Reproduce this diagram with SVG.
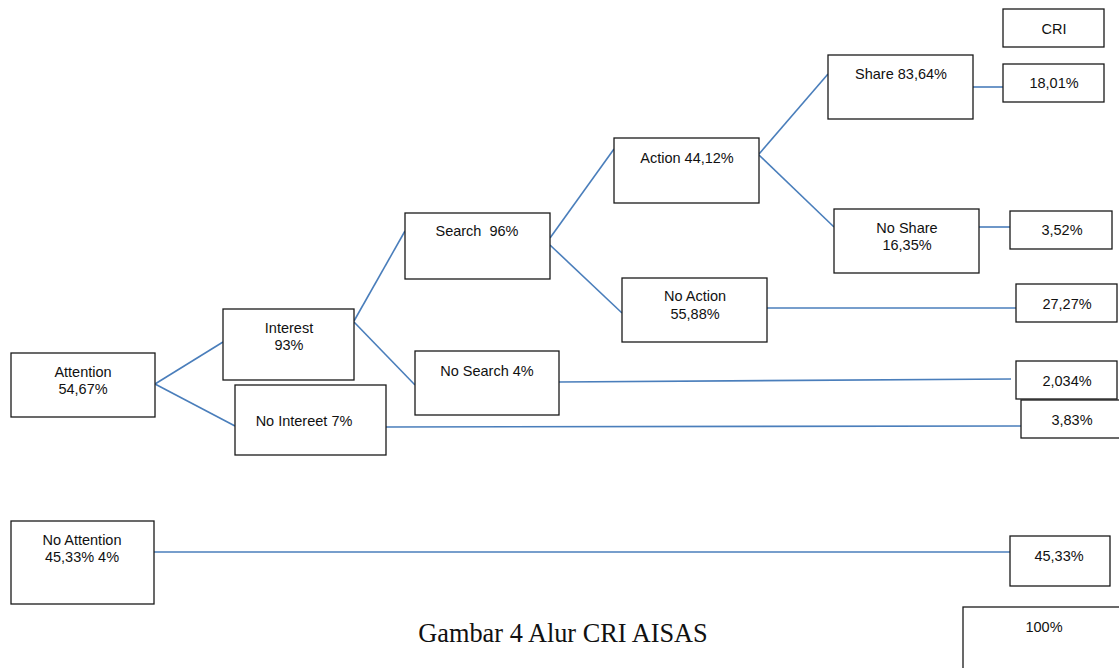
<svg xmlns="http://www.w3.org/2000/svg" width="1119" height="668" viewBox="0 0 1119 668">
<style>
.box{fill:#fff;stroke:#1a1a1a;stroke-width:1.3}
.lbl{font-family:"Liberation Sans",Arial,sans-serif;font-size:14.5px;fill:#111;text-anchor:middle}
.cap{font-family:"Liberation Serif","Times New Roman",serif;font-size:26.3px;fill:#111;text-anchor:middle}
.con line{stroke:#4a7ebb;stroke-width:1.6;fill:none}
</style>
<rect width="1119" height="668" fill="#fff"/>
<g class="con" id="connectors">
<line x1="155" y1="384" x2="223" y2="342"/>
<line x1="155" y1="384" x2="235" y2="426"/>
<line x1="354" y1="321" x2="405" y2="231"/>
<line x1="354" y1="322" x2="415" y2="385"/>
<line x1="550" y1="238" x2="614" y2="149"/>
<line x1="550" y1="245" x2="622" y2="313"/>
<line x1="759" y1="154" x2="828" y2="74"/>
<line x1="759" y1="155" x2="834" y2="227"/>
<line x1="973" y1="87" x2="1003" y2="87"/>
<line x1="979" y1="227" x2="1010" y2="227"/>
<line x1="767" y1="308" x2="1016" y2="308"/>
<line x1="559" y1="382" x2="1011" y2="379"/>
<line x1="386" y1="427" x2="1021" y2="426"/>
<line x1="154" y1="552" x2="1010" y2="552"/>
</g>
<g id="attention"><rect class="box" x="11" y="353" width="144" height="64"/><text class="lbl" x="83" y="377">Attention</text><text class="lbl" x="83" y="394">54,67%</text></g>
<g id="interest"><rect class="box" x="223" y="309" width="131" height="71"/><text class="lbl" x="289" y="333">Interest</text><text class="lbl" x="289" y="350">93%</text></g>
<g id="no-interest"><rect class="box" x="235" y="385" width="151" height="70"/><text class="lbl" x="304" y="426">No Intereet 7%</text></g>
<g id="search"><rect class="box" x="405" y="213" width="145" height="66"/><text class="lbl" x="477" y="236" xml:space="preserve">Search  96%</text></g>
<g id="no-search"><rect class="box" x="415" y="351" width="144" height="64"/><text class="lbl" x="487" y="376">No Search 4%</text></g>
<g id="action"><rect class="box" x="614" y="138" width="145" height="65"/><text class="lbl" x="687" y="163">Action 44,12%</text></g>
<g id="no-action"><rect class="box" x="622" y="278" width="145" height="64"/><text class="lbl" x="695" y="301">No Action</text><text class="lbl" x="695" y="319">55,88%</text></g>
<g id="share"><rect class="box" x="828" y="55" width="145" height="64"/><text class="lbl" x="901" y="79">Share 83,64%</text></g>
<g id="no-share"><rect class="box" x="834" y="209" width="145" height="64"/><text class="lbl" x="907" y="233">No Share</text><text class="lbl" x="907" y="250">16,35%</text></g>
<g id="cri"><rect class="box" x="1003" y="9" width="101" height="38"/><text class="lbl" x="1054" y="34">CRI</text></g>
<g id="r1801"><rect class="box" x="1003" y="64" width="101" height="38"/><text class="lbl" x="1054" y="88">18,01%</text></g>
<g id="r352"><rect class="box" x="1010" y="211" width="102" height="38"/><text class="lbl" x="1062" y="235">3,52%</text></g>
<g id="r2727"><rect class="box" x="1016" y="284" width="101" height="38"/><text class="lbl" x="1067" y="309">27,27%</text></g>
<g id="r2034"><rect class="box" x="1016" y="361" width="101" height="38"/><text class="lbl" x="1067" y="386">2,034%</text></g>
<g id="r383"><rect class="box" x="1021" y="400" width="100" height="38"/><text class="lbl" x="1072" y="425">3,83%</text></g>
<g id="no-attention"><rect class="box" x="11" y="521" width="143" height="83"/><text class="lbl" x="82" y="545">No Attention</text><text class="lbl" x="82" y="562">45,33% 4%</text></g>
<g id="r4533"><rect class="box" x="1010" y="536" width="100" height="50"/><text class="lbl" x="1059" y="561">45,33%</text></g>
<g id="r100"><rect class="box" x="963" y="607" width="160" height="70"/><text class="lbl" x="1044" y="632">100%</text></g>
<text class="cap" x="563" y="642">Gambar 4 Alur CRI AISAS</text>
</svg>
